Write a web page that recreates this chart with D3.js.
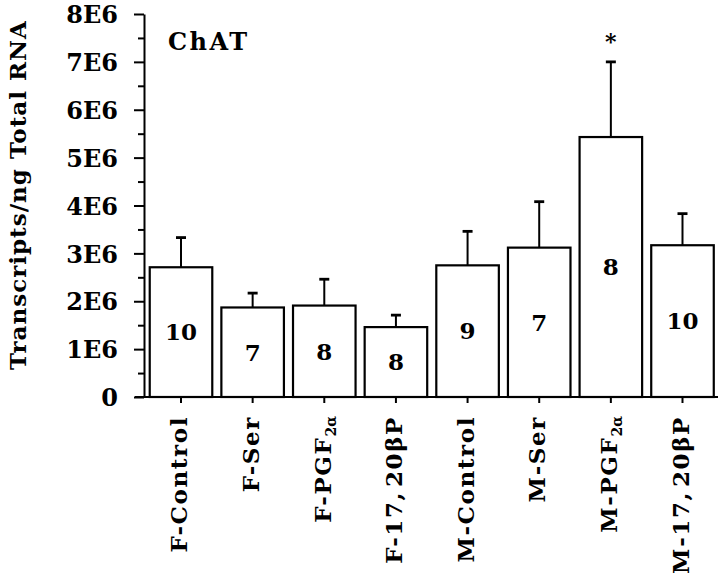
<!DOCTYPE html>
<html>
<head>
<meta charset="utf-8">
<script src="https://cdn.jsdelivr.net/npm/d3@7"></script>
<style>
body { margin: 0; background: white; }
text { font-family: "DejaVu Serif", "Liberation Serif", serif; font-weight: bold; fill: black; }
</style>
</head>
<body>
<svg width="720" height="575"></svg>
<script>
// groups, means, upper end of the error bars, n per group
var groups = ["F-Control", "F-Ser", "F-PGF", "F-17,\u200A20\u03B2P", "M-Control", "M-Ser", "M-PGF", "M-17,\u200A20\u03B2P"];
var means  = [2.71e6, 1.87e6, 1.91e6, 1.46e6, 2.75e6, 3.12e6, 5.43e6, 3.17e6];
var errTop = [3.33e6, 2.17e6, 2.46e6, 1.71e6, 3.46e6, 4.08e6, 7.0e6, 3.83e6];
var counts = [10, 7, 8, 8, 9, 7, 8, 10];
var yTicks = [0, 1e6, 2e6, 3e6, 4e6, 5e6, 6e6, 7e6, 8e6];
var yMinor = [0.5e6, 1.5e6, 2.5e6, 3.5e6, 4.5e6, 5.5e6, 6.5e6, 7.5e6];

var data = [];
for (i = 0; i < groups.length; i++) {
    data.push({ g: groups[i], mean: means[i], top: errTop[i], n: counts[i] });
}

var svg = d3.select("svg");

var x = d3.scaleBand()
    .domain(groups)
    .range([144, 719.5])
    .paddingInner(0.127)
    .paddingOuter(0.08);

var y = d3.scaleLinear()
    .domain([0, 8e6])
    .range([397, 14]);

var cx = function(d) { return x(d.g) + x.bandwidth() / 2; };

// bars
svg.selectAll(".bar")
    .data(data)
    .enter().append("rect")
    .attr("class", "bar")
    .attr("x", function(d) { return x(d.g); })
    .attr("y", function(d) { return y(d.mean); })
    .attr("width", x.bandwidth())
    .attr("height", function(d) { return y(0) - y(d.mean); })
    .style("fill", "white")
    .style("stroke", "black")
    .style("stroke-width", 2.2);

// error bars
svg.selectAll(".err")
    .data(data)
    .enter().append("line")
    .attr("x1", cx).attr("x2", cx)
    .attr("y1", function(d) { return y(d.mean); })
    .attr("y2", function(d) { return y(d.top); })
    .style("stroke", "black")
    .style("stroke-width", 2);
svg.selectAll(".cap")
    .data(data)
    .enter().append("line")
    .attr("x1", function(d) { return cx(d) - 5; })
    .attr("x2", function(d) { return cx(d) + 5; })
    .attr("y1", function(d) { return y(d.top); })
    .attr("y2", function(d) { return y(d.top); })
    .style("stroke", "black")
    .style("stroke-width", 2.8);

// n inside bars
svg.selectAll(".n")
    .data(data)
    .enter().append("text")
    .attr("x", cx)
    .attr("y", function(d) { return y(d.mean / 2); })
    .attr("dy", "0.36em")
    .attr("text-anchor", "middle")
    .style("font-size", "23px")
    .text(function(d) { return d.n; });

// y axis
var yMinorAxis = svg.append("g")
    .attr("transform", "translate(144,0)")
    .call(d3.axisLeft(y).tickValues(yMinor).tickSize(6).tickFormat(""));
yMinorAxis.select(".domain").remove();
yMinorAxis.selectAll("line").style("stroke", "black").style("stroke-width", 2);

var yAxis = svg.append("g")
    .attr("transform", "translate(144,0)")
    .call(d3.axisLeft(y).tickValues(yTicks).tickSize(10).tickSizeOuter(0)
        .tickFormat(function(d) { return d == 0 ? "0" : (d / 1e6) + "E6"; }));
yAxis.selectAll("line, path").style("stroke", "black").style("stroke-width", 2);
yAxis.selectAll("text")
    .attr("x", -26)
    .attr("dy", "0.36em")
    .style("font-family", "DejaVu Serif")
    .style("font-size", "24px");

// x axis
var xAxis = svg.append("g")
    .attr("transform", "translate(0,397)")
    .call(d3.axisBottom(x).tickSize(6).tickFormat(""));
xAxis.select(".domain").remove();
xAxis.selectAll("line").style("stroke", "black").style("stroke-width", 2);
svg.append("line")
    .attr("x1", 135).attr("x2", 718)
    .attr("y1", 397).attr("y2", 397)
    .style("stroke", "black")
    .style("stroke-width", 2);

// rotated category labels
var xl = svg.selectAll(".xl")
    .data(groups)
    .enter().append("text")
    .attr("transform", function(d) { return "translate(" + (x(d) + x.bandwidth() / 2 - 2) + ",416) rotate(-90)"; })
    .attr("text-anchor", "end")
    .attr("dy", "0.36em")
    .style("font-size", "23px")
    .style("letter-spacing", "1.6px");
xl.append("tspan").text(function(d) { return d; });
xl.filter(function(d) { return d.indexOf("PGF") >= 0; })
    .append("tspan")
    .attr("dy", "5")
    .style("font-size", "14px")
    .style("letter-spacing", "0px")
    .text("2\u03B1");

// y title
svg.append("text")
    .attr("transform", "translate(26,195) rotate(-90)")
    .attr("text-anchor", "middle")
    .style("font-size", "23px")
    .style("letter-spacing", "1px")
    .text("Transcripts/ng Total RNA");

// panel label and significance mark
svg.append("text")
    .attr("x", 168).attr("y", 49.5)
    .style("font-size", "24px")
    .style("letter-spacing", "2.5px")
    .text("ChAT");
svg.append("text")
    .attr("x", cx(data[6])).attr("y", 49)
    .attr("text-anchor", "middle")
    .style("font-size", "22px")
    .text("*");
</script>
</body>
</html>
